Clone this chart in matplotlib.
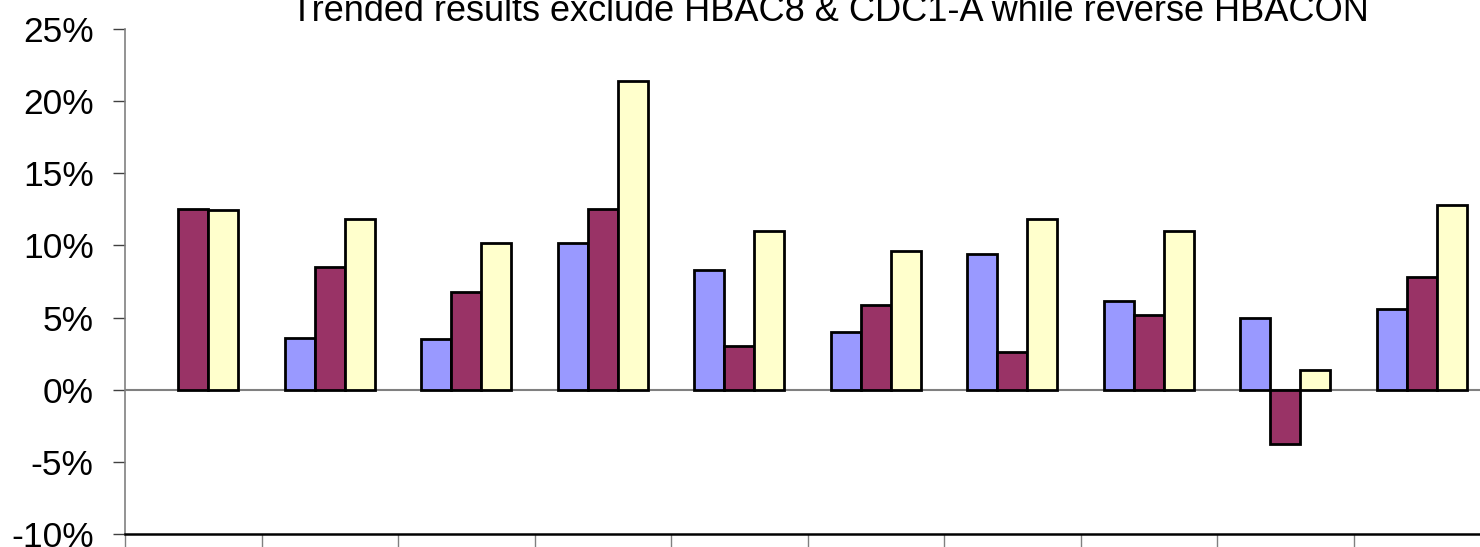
import numpy as np
import matplotlib.pyplot as plt
from matplotlib.ticker import FuncFormatter, MultipleLocator

plt.rcParams['font.family'] = ['Liberation Sans', 'DejaVu Sans']

title = "Trended results exclude HBAC8 & CDC1-A while reverse HBACON"
n_groups = 10
series_a = [np.nan, 3.55, 3.5, 10.2, 8.3, 4.0, 9.4, 6.15, 4.97, 5.62]
series_b = [12.55, 8.48, 6.8, 12.5, 3.05, 5.9, 2.6, 5.2, -3.77, 7.8]
series_c = [12.45, 11.83, 10.2, 21.4, 11.0, 9.6, 11.8, 11.0, 1.37, 12.8]
colors = ["#9999FF", "#993366", "#FFFFCC"]

fig = plt.figure(figsize=(14.8, 5.47), dpi=100)
ax = fig.add_axes([125 / 1480, 1 - 534 / 547, 1365 / 1480, 505 / 547])

x = np.arange(n_groups) + 0.5
w = 0.22
for k, (vals, c) in enumerate(zip([series_a, series_b, series_c], colors)):
    ax.bar(x + (k - 1) * w, vals, width=w, color=c, edgecolor="black",
           linewidth=2.0, zorder=3)

ax.axhline(0, color="#808080", linewidth=1.5, zorder=2)

ax.set_xlim(0, n_groups)
ax.set_ylim(-10, 25)
ax.yaxis.set_major_locator(MultipleLocator(5))
ax.yaxis.set_major_formatter(FuncFormatter(lambda v, p: f"{v:.0f}%"))
ax.set_xticks(np.arange(n_groups + 1))
ax.set_xticklabels([])

for s in ["top", "right"]:
    ax.spines[s].set_visible(False)
ax.spines["left"].set_color("#808080")
ax.spines["left"].set_linewidth(1.2)
ax.spines["bottom"].set_color("black")
ax.spines["bottom"].set_linewidth(1.8)

ax.tick_params(axis="y", length=8.6, width=1.0, pad=14, labelsize=25.5,
               color="#404040")
ax.tick_params(axis="x", length=12, width=1.0, color="#808080")

fig.text(830 / 1480, 1 - 21 / 547, title, ha="center", va="baseline",
         fontsize=26)

fig.savefig("out.png", dpi=100)
